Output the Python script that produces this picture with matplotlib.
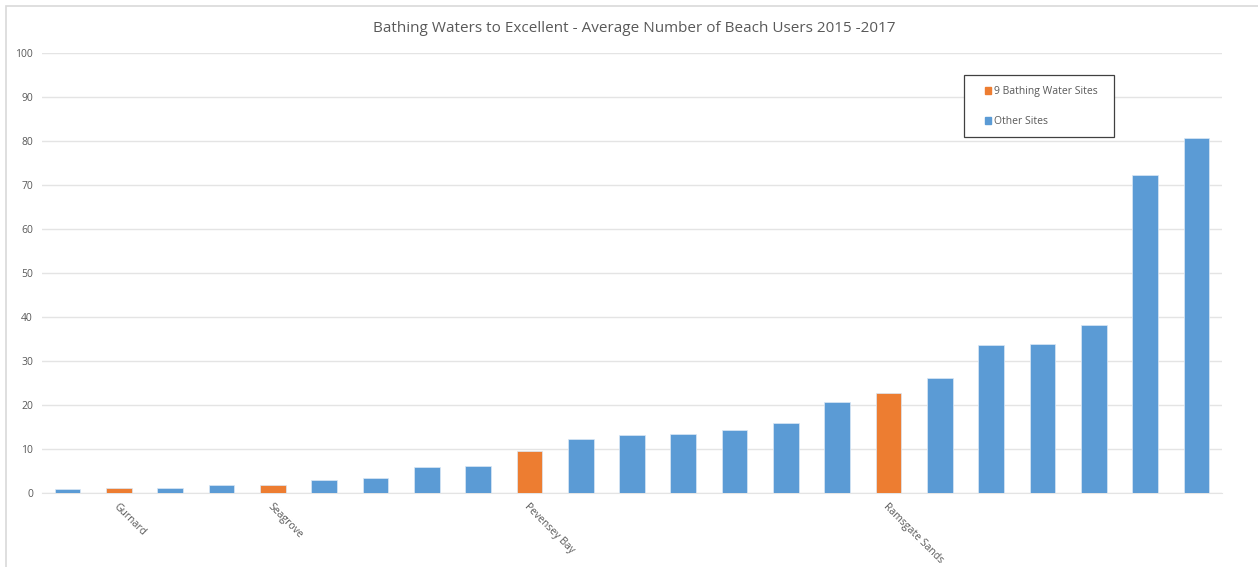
import matplotlib.pyplot as plt
from matplotlib.patches import Patch, Rectangle

plt.rcParams['font.family'] = ['Open Sans', 'DejaVu Sans']

values = [1.0, 1.1, 1.1, 1.8, 1.8, 2.9, 3.4, 6.0, 6.1, 9.5, 12.2, 13.1, 13.4,
          14.3, 15.9, 20.7, 22.7, 26.2, 33.7, 33.9, 38.1, 72.2, 80.7]
is_bathing = [False, True, False, False, True, False, False, False, False, True,
              False, False, False, False, False, False, True, False, False,
              False, False, False, False]
tick_labels = ["", "Gurnard", "", "", "Seagrove", "", "", "", "", "Pevensey Bay",
               "", "", "", "", "", "", "Ramsgate Sands", "", "", "", "", "", ""]
title = "Bathing Waters to Excellent - Average Number of Beach Users 2015 -2017"

blue = "#5B9BD5"
orange = "#ED7D31"
text_grey = "#595959"

W, H = 1258, 567
fig = plt.figure(figsize=(W / 100, H / 100), dpi=100)
ax = fig.add_axes([42 / W, (H - 493) / H, (1222 - 42) / W, (493 - 53) / H])

x = list(range(len(values)))
colors = [orange if b else blue for b in is_bathing]
ax.bar(x, values, width=0.5, color=colors, edgecolor="#dbe8f5", linewidth=0.5, zorder=3)

ax.set_xlim(-0.5, len(values) - 0.5)
ax.set_ylim(0, 100)
ax.set_yticks(range(0, 101, 10))
ax.yaxis.grid(True, color="#e4e4e4", linewidth=1, zorder=0)
ax.tick_params(axis="y", length=0, labelsize=7.5, labelcolor=text_grey, pad=6.5)
ax.set_xticks(x)
ax.set_xticklabels(tick_labels)
ax.tick_params(axis="x", length=0, labelsize=7.5, labelcolor=text_grey, pad=6)
for lbl in ax.get_xticklabels():
    lbl.set_rotation(-45)
    lbl.set_ha("left")
    lbl.set_va("top")
    lbl.set_rotation_mode("anchor")
for s in ["top", "right", "left"]:
    ax.spines[s].set_visible(False)
ax.spines["bottom"].set_color("#e4e4e4")

fig.text(634 / W, (H - 28) / H, title, ha="center", va="center", fontsize=11, color=text_grey)

# legend box drawn separately so the inner padding can match the reference
fig.patches.append(Rectangle((964 / W, (H - 137) / H), 150 / W, 62 / H,
                             transform=fig.transFigure, facecolor="white",
                             edgecolor="#404040", linewidth=0.9, zorder=5))
handles = [Patch(color=orange, label="9 Bathing Water Sites"),
           Patch(color=blue, label="Other Sites")]
leg = fig.legend(handles=handles, loc="upper left",
                 bbox_to_anchor=(985 / W, (H - 86) / H),
                 fontsize=7.5, labelcolor=text_grey, handlelength=0.6, handleheight=0.6,
                 handletextpad=0.3, labelspacing=1.85, borderpad=0,
                 frameon=False, borderaxespad=0)
leg.set_zorder(6)

fig.patches.append(Rectangle((6 / W, -0.1), 1.2, (H - 6) / H + 0.1,
                             transform=fig.transFigure, fill=False,
                             edgecolor="#d9d9d9", linewidth=1.2))

fig.savefig("out.png", dpi=100)
